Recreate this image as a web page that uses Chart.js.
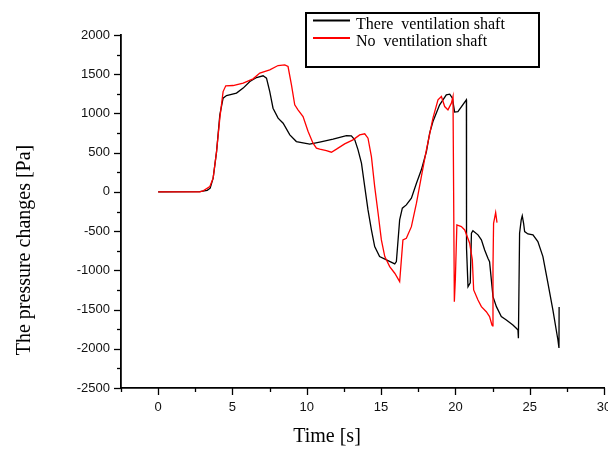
<!DOCTYPE html>
<html>
<head>
<meta charset="utf-8">
<script src="https://cdn.jsdelivr.net/npm/chart.js@4.4.1/dist/chart.umd.min.js"></script>
<style>
  html, body { margin: 0; padding: 0; background: #fff; overflow: hidden; width: 608px; height: 449px; }
  #c { display: block; }
</style>
</head>
<body>
<canvas id="c" width="640" height="449" style="width:640px;height:449px"></canvas>
<script>
// Series: "There ventilation shaft" (black)
const shaftTime = [0, 2.8, 3.3, 3.5, 3.7, 3.93, 4.15, 4.37, 4.6, 5.27, 5.72, 6.17, 6.62, 7.06, 7.29, 7.51, 7.73, 8.07, 8.41, 8.86, 9.3, 10.2, 10.87, 11.77, 12.67, 13.0, 13.23, 13.45, 13.68, 13.9, 14.12, 14.35, 14.57, 14.9, 15.36, 15.92, 16.03, 16.25, 16.43, 16.7, 17.04, 17.38, 17.71, 18.05, 18.27, 18.49, 18.94, 19.39, 19.62, 19.8, 19.95, 20.17, 20.74, 20.75, 20.85, 21.0, 21.08, 21.18, 21.52, 21.75, 21.97, 22.19, 22.3, 22.42, 22.53, 22.76, 23.09, 23.43, 23.87, 24.1, 24.21, 24.24, 24.32, 24.43, 24.5, 24.59, 24.66, 24.88, 25.22, 25.55, 25.89, 26.23, 26.56, 26.9, 26.97, 26.98];
const shaftPressure = [0, 4, 20, 47, 175, 514, 982, 1195, 1228, 1259, 1323, 1407, 1458, 1480, 1450, 1279, 1067, 940, 876, 727, 642, 608, 634, 672, 718, 714, 663, 536, 366, 68, -230, -485, -697, -825, -867, -918, -889, -357, -208, -166, -80, 111, 281, 514, 749, 897, 1110, 1237, 1246, 1195, 1017, 1024, 1173, -720, -1208, -1160, -527, -494, -548, -612, -740, -846, -889, -1122, -1335, -1463, -1590, -1633, -1696, -1739, -1760, -1866, -527, -357, -306, -400, -506, -536, -548, -634, -825, -1165, -1505, -1888, -1990, -1467];

// Series: "No ventilation shaft" (red)
const noShaftTime = [0, 2.8, 3.03, 3.48, 3.7, 3.93, 4.15, 4.37, 4.55, 5.04, 5.72, 6.39, 6.84, 7.51, 8.07, 8.52, 8.74, 8.97, 9.19, 9.41, 9.75, 10.09, 10.42, 10.65, 10.87, 11.32, 11.66, 12.0, 12.55, 13.11, 13.56, 13.9, 14.12, 14.35, 14.57, 14.8, 15.02, 15.25, 15.58, 15.92, 16.25, 16.47, 16.7, 17.04, 17.38, 17.71, 18.05, 18.49, 18.83, 19.06, 19.28, 19.5, 19.73, 19.84, 19.93, 20.0, 20.1, 20.4, 20.63, 20.96, 21.14, 21.23, 21.52, 21.75, 22.08, 22.3, 22.46, 22.5, 22.53, 22.57, 22.71, 22.8];
const noShaftPressure = [0, 0, 13, 68, 175, 514, 940, 1279, 1352, 1356, 1386, 1441, 1514, 1556, 1611, 1620, 1598, 1365, 1110, 1046, 960, 769, 621, 557, 545, 527, 506, 545, 612, 663, 727, 740, 685, 450, 68, -272, -612, -825, -953, -1037, -1144, -612, -591, -443, -144, 195, 536, 940, 1173, 1216, 1088, 1046, 1131, 1216, -1399, -1100, -421, -443, -485, -655, -867, -1250, -1378, -1463, -1527, -1590, -1696, -1709, -953, -400, -264, -391];

// Tick labels
const xTickValues = [0, 5, 10, 15, 20, 25, 30];
const yTickValues = [-2500, -2000, -1500, -1000, -500, 0, 500, 1000, 1500, 2000];
const seriesNames = ["There  ventilation shaft", "No  ventilation shaft"];
const xTitle = "Time [s]";
const yTitle = "The pressure changes [Pa]";

const toPoints = (xs, ys) => xs.map((x, i) => ({ x: x, y: ys[i] }));

const SANS = "'Liberation Sans', Arial, sans-serif";
const SERIF = "'Liberation Serif', 'Times New Roman', serif";

const decorPlugin = {
  id: 'decor',
  afterDraw(chart) {
    const ctx = chart.ctx;
    const xs = chart.scales.x, ys = chart.scales.y;
    const area = chart.chartArea;
    ctx.save();
    ctx.strokeStyle = '#000';
    ctx.lineWidth = 1.3;
    // y ticks (major 500, minor 250)
    for (let v = -2500; v <= 2000; v += 250) {
      const p = Math.round(ys.getPixelForValue(v)) + 0.5;
      const len = (v % 500 === 0) ? 7 : 4;
      ctx.beginPath();
      ctx.moveTo(area.left - len, p);
      ctx.lineTo(area.left, p);
      ctx.stroke();
    }
    // x ticks (major 5, minor 2.5)
    for (let v = -2.5; v <= 30; v += 2.5) {
      const p = Math.round(xs.getPixelForValue(v)) + 0.5;
      const len = (Math.abs(v % 5) < 1e-9) ? 7 : 4;
      ctx.beginPath();
      ctx.moveTo(p, area.bottom);
      ctx.lineTo(p, area.bottom + len);
      ctx.stroke();
    }
    // axis titles
    ctx.fillStyle = '#000';
    ctx.font = '20px ' + SERIF;
    ctx.textAlign = 'center';
    ctx.textBaseline = 'alphabetic';
    ctx.fillText(xTitle, 327, 442);
    ctx.save();
    ctx.translate(30, 250);
    ctx.rotate(-Math.PI / 2);
    ctx.fillText(yTitle, 0, 0);
    ctx.restore();
    // legend
    ctx.lineWidth = 2;
    ctx.strokeStyle = '#000';
    ctx.strokeRect(306, 13, 233, 54);
    const colors = ['#000000', '#ff0000'];
    const rowsY = [20.5, 38];
    ctx.font = '16px ' + SERIF;
    ctx.textAlign = 'left';
    for (let i = 0; i < 2; i++) {
      ctx.strokeStyle = colors[i];
      ctx.lineWidth = 2;
      ctx.beginPath();
      ctx.moveTo(313, rowsY[i]);
      ctx.lineTo(350, rowsY[i]);
      ctx.stroke();
      ctx.fillStyle = '#000';
      ctx.fillText(seriesNames[i], 356, rowsY[i] + 8);
    }
    ctx.restore();
  }
};

new Chart(document.getElementById('c'), {
  type: 'scatter',
  data: {
    datasets: [
      {
        label: seriesNames[0],
        data: toPoints(shaftTime, shaftPressure),
        showLine: true,
        borderColor: '#000000',
        backgroundColor: '#000000',
        borderWidth: 1.3,
        pointRadius: 0,
        tension: 0,
        order: 2
      },
      {
        label: seriesNames[1],
        data: toPoints(noShaftTime, noShaftPressure),
        showLine: true,
        borderColor: '#ff0000',
        backgroundColor: '#ff0000',
        borderWidth: 1.3,
        pointRadius: 0,
        tension: 0,
        order: 1
      }
    ]
  },
  options: {
    responsive: false,
    devicePixelRatio: 1,
    animation: false,
    layout: { padding: { top: 35, right: 36, left: 0, bottom: 0 } },
    plugins: { legend: { display: false }, tooltip: { enabled: false } },
    scales: {
      x: {
        type: 'linear',
        min: -2.5,
        max: 30,
        grid: { display: false, drawTicks: false },
        border: { display: true, color: '#000', width: 1.8 },
        afterBuildTicks: (s) => { s.ticks = xTickValues.map(v => ({ value: v })); },
        afterFit: (s) => { s.height = 61; },
        ticks: {
          color: '#111',
          font: { family: SANS, size: 13 },
          padding: 12,
          maxRotation: 0,
          autoSkip: false,
          callback: (v) => String(v)
        }
      },
      y: {
        type: 'linear',
        min: -2500,
        max: 2000,
        grid: { display: false, drawTicks: false },
        border: { display: true, color: '#000', width: 1.8 },
        afterBuildTicks: (s) => { s.ticks = yTickValues.map(v => ({ value: v })); },
        afterFit: (s) => { s.width = 121; },
        ticks: {
          color: '#111',
          font: { family: SANS, size: 13 },
          padding: 11,
          autoSkip: false,
          callback: (v) => String(v)
        }
      }
    }
  },
  plugins: [decorPlugin]
});
</script>
</body>
</html>
